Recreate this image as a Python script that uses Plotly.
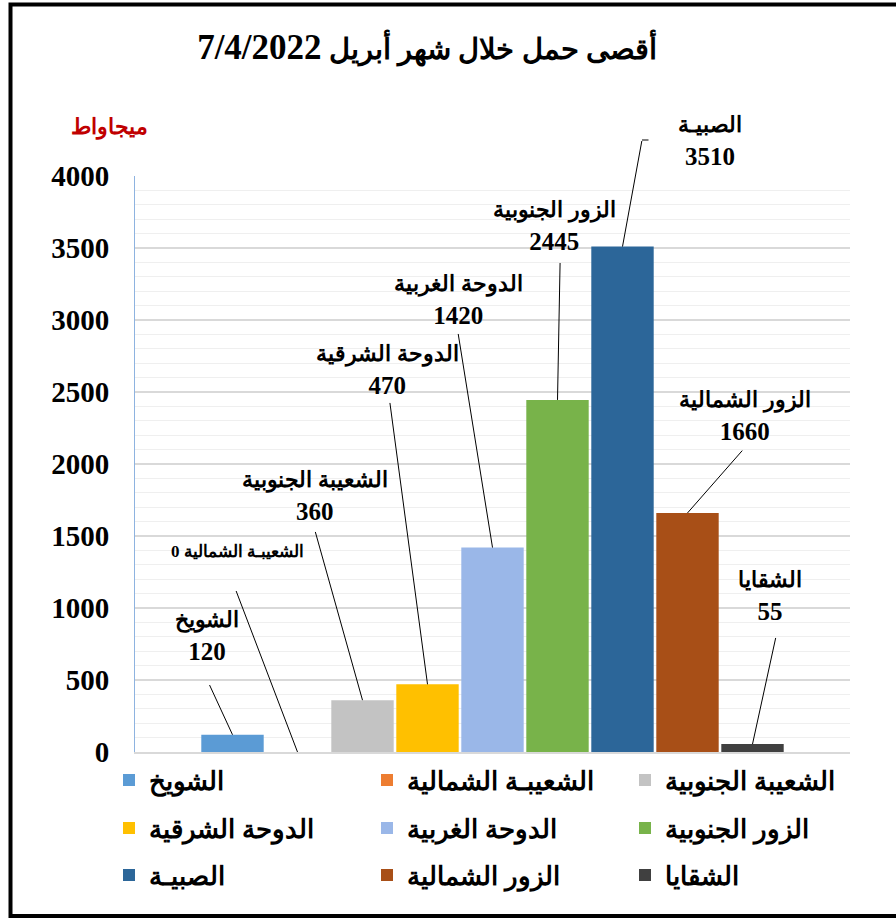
import plotly.graph_objects as go

# ---- data ----
stations = ["الشويخ", "الشعيبـة الشمالية", "الشعيبة الجنوبية", "الدوحة الشرقية",
            "الدوحة الغربية", "الزور الجنوبية", "الصبيـة", "الزور الشمالية", "الشقايا"]
label_names = ["الشويخ", "الشعيبـة الشمالية", "الشعيبة الجنوبية", "الدوحة الشرقية",
               "الدوحة الغربية", "الزور الجنوبية", "الصبيـة", "الزور الشمالية", "الشقايا"]
loads_mw = [120, 0, 360, 470, 1420, 2445, 3510, 1660, 55]
colors = ["#5B9BD5", "#ED7D31", "#C3C3C3", "#FFC000", "#9AB7E8",
          "#78B34A", "#2C6699", "#A84F17", "#404040"]
y_ticks = [0, 500, 1000, 1500, 2000, 2500, 3000, 3500, 4000]
title_words = "أقصى حمل خلال شهر أبريل"
title_date = "7/4/2022"
unit_text = "ميجاواط"

X_RANGE = [-1.5, 9.5]
Y_RANGE = [0, 4000]

# label placement (data-space coordinates of label centres)
label_x = [-0.39, 0.07, 1.27, 2.38, 3.47, 4.95, 7.35, 7.89, 8.27]
label_y = [806, 1389, 1778, 2653, 3139, 3653, 4243, 2333, 1083]
# leader-line start points (data-space coordinates)
leader_x = [-0.36, 0.05, 1.27, 2.42, 3.47, 5.04, 6.30, 7.85, 8.36]
leader_y = [472, 1125, 1535, 2431, 2910, 3403, 4250, 2097, 799]

legend_rows = ["legend", "legend", "legend", "legend2", "legend2", "legend2",
               "legend3", "legend3", "legend3"]

SERIF = "Liberation Serif, Times New Roman, DejaVu Serif, serif"


def to_paper_x(x):
    return (x - X_RANGE[0]) / (X_RANGE[1] - X_RANGE[0])


def to_paper_y(y):
    return (y - Y_RANGE[0]) / (Y_RANGE[1] - Y_RANGE[0])


fig = go.Figure()
for i, (name, v) in enumerate(zip(stations, loads_mw)):
    fig.add_trace(go.Bar(
        x=[i], y=[v], name=name,
        marker=dict(color=colors[i], line=dict(width=0)),
        legend=legend_rows[i],
        showlegend=True,
        hoverinfo="skip",
    ))

annotations = []
for i, v in enumerate(loads_mw):
    if v == 0:
        txt = f"{label_names[i]} {v}"
        size = 17
    else:
        txt = f"<span style='font-size:22px'>{label_names[i]}</span><br>{v}"
        size = 25
    # label text
    annotations.append(dict(
        x=to_paper_x(label_x[i]), y=to_paper_y(label_y[i]), xref="paper", yref="paper",
        text=txt, showarrow=False, xanchor="center", yanchor="middle",
        font=dict(family=SERIF, size=size, color="black", weight="bold"),
        align="center",
    ))
    # leader line
    annotations.append(dict(
        x=i, y=v, xref="x", yref="y",
        ax=leader_x[i], ay=leader_y[i], axref="x", ayref="y",
        text=" ", font=dict(size=1), showarrow=True, arrowhead=0, arrowwidth=1,
        arrowcolor="black", standoff=0, startstandoff=0, borderpad=0,
    ))

# small horizontal tick on the الصبية leader
annotations.append(dict(
    x=to_paper_x(leader_x[6]), y=to_paper_y(leader_y[6]), xref="paper", yref="paper",
    ax=7, ay=0, axref="pixel", ayref="pixel",
    text=" ", font=dict(size=1), showarrow=True, arrowhead=0, arrowwidth=1,
    arrowcolor="black", standoff=0, startstandoff=0, borderpad=0,
))

annotations.append(dict(
    x=-0.035, y=1.085, xref="paper", yref="paper", text=unit_text,
    showarrow=False, xanchor="center", yanchor="middle",
    font=dict(family=SERIF, size=22, color="#C00000", weight="bold"),
))

L, R, T, B = 135, 46, 176, 168
PW, PH = 896 - L - R, 920 - T - B


def px2paper_x(px):
    return (px - L) / PW


def px2paper_y(py):
    return (920 - B - py) / PH


shapes = [dict(
    type="rect", xref="paper", yref="paper",
    x0=px2paper_x(10.5), x1=px2paper_x(902), y0=px2paper_y(916), y1=px2paper_y(4.5),
    line=dict(color="black", width=4), fillcolor="rgba(0,0,0,0)", layer="above",
)]

legend_font = dict(family=SERIF, size=26, color="black", weight="bold")


def legend_cfg(py):
    return dict(orientation="h", x=px2paper_x(109), y=px2paper_y(py),
                xanchor="left", yanchor="middle", entrywidth=213,
                font=legend_font, bgcolor="rgba(0,0,0,0)", traceorder="normal")


fig.update_layout(
    width=896, height=920,
    margin=dict(l=L, r=R, t=T, b=B),
    paper_bgcolor="white", plot_bgcolor="white",
    barmode="overlay", bargap=0.04,
    title=dict(text=f"{title_words} <span style='font-size:35px'>{title_date}</span>",
               x=427 / 896, y=1 - 49 / 920, xref="container",
               yref="container", xanchor="center", yanchor="middle",
               font=dict(family=SERIF, size=29, color="black", weight="bold")),
    xaxis=dict(range=X_RANGE, showticklabels=False, showgrid=False,
               zeroline=False, showline=True, linecolor="#D9D9D9", linewidth=2,
               fixedrange=True),
    yaxis=dict(range=Y_RANGE, tickvals=y_ticks, ticktext=[str(t) for t in y_ticks],
               showgrid=True, gridcolor="#D9D9D9", gridwidth=1.5,
               minor=dict(dtick=100, showgrid=True, gridcolor="#EFEFEF", gridwidth=1),
               zeroline=False, showline=True, linecolor="#8EB3E0", linewidth=1,
               ticks="", ticklabelstandoff=19,
               tickfont=dict(family=SERIF, size=29, color="black", weight="bold")),
    legend=legend_cfg(780),
    legend2=legend_cfg(828),
    legend3=legend_cfg(875),
    annotations=annotations,
    shapes=shapes,
    showlegend=True,
)

fig.write_html("out.html", config={"displayModeBar": False},
               post_script="document.body.style.margin='0';")
